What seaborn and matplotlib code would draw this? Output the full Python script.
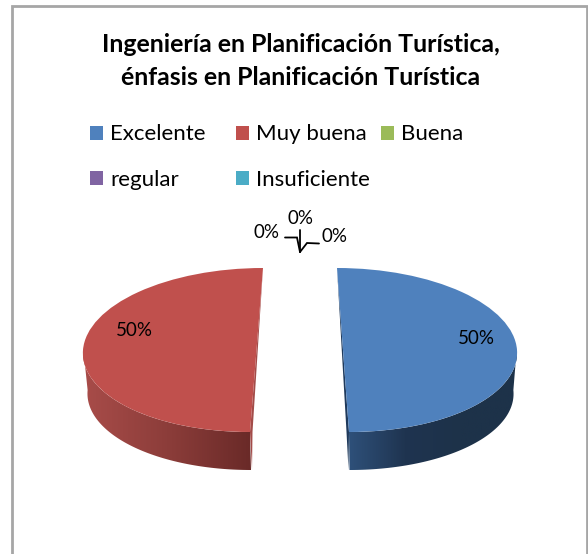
import numpy as np
import matplotlib
matplotlib.use('Agg')
import matplotlib.pyplot as plt
from matplotlib.colors import ListedColormap
from matplotlib.patches import Polygon, Rectangle
from matplotlib.transforms import Affine2D
import seaborn as sns

sns.set_theme(style='white')
plt.rcParams['font.family'] = ['Lato', 'DejaVu Sans']

titulo = 'Ingeniería en Planificación Turística,\nénfasis en Planificación Turística'
categorias = ['Excelente', 'Muy buena', 'Buena', 'regular', 'Insuficiente']
valores = [50, 50, 0, 0, 0]
colores = ['#4f81bd', '#c0504d', '#9bbb59', '#8064a2', '#4bacc6']
grad_azul = ['#2e5079', '#1f3450', '#1d3249', '#1d3249']
grad_rojo = ['#a84c49', '#8c3d3a', '#6a2a28']

H = 554
fig = plt.figure(figsize=(5.88, 5.54), dpi=100)
ax = fig.add_axes([0, 0, 1, 1])

wedges, _, pct = ax.pie(valores, colors=colores, startangle=90, counterclock=False,
                        autopct='%.0f%%', wedgeprops={'linewidth': 0, 'edgecolor': 'none'},
                        textprops={'fontsize': 13.5, 'color': 'black', 'zorder': 6})
ax.set_aspect('auto')
ax.set_xlim(0, 588)
ax.set_ylim(0, H)
ax.axis('off')

# caja del grafico
ax.add_patch(Rectangle((11.5, -10), 575.5, H + 10 - 5.5, fill=False, ec='#a6a6a6', lw=2, zorder=0))

# (cx, cy, a, b, k) cara superior e inferior de cada porcion en pixeles
geo_sup = [(343, H - 350, 174, 82, -6), (256.5, H - 350, 173.5, 82, 6.5)]
geo_inf = [(345.5, H - 392, 168, 78, -4), (254.5, H - 392, 167, 78, 3.5)]
gradientes = [grad_azul, grad_rojo]
tiras = ['#1f3a5c', '#a34c49']


def puntos(g, ang):
    cx, cy, a, b, k = g
    c, s = np.cos(np.radians(ang)), np.sin(np.radians(ang))
    return np.column_stack([cx + a * c + k * s, cy + b * s])


for i in range(2):
    w = wedges[i]
    ang = np.linspace(w.theta1, w.theta2, 200)
    ang = ang[np.sin(np.radians(ang)) <= 0.03]
    sup = puntos(geo_sup[i], ang)
    inf = puntos(geo_inf[i], ang)

    # lateral con degradado
    lat = Polygon(np.vstack([sup, inf[::-1]]), closed=True, fc='none', ec='none')
    ax.add_patch(lat)
    if i == 0:
        x0, x1 = 349, 517
    else:
        x0, x1 = 83, 252
    cmap = ListedColormap(sns.blend_palette(gradientes[i], 64))
    im = ax.imshow(np.linspace(0, 1, 64)[None, :], cmap=cmap, aspect='auto',
                   extent=(x0, x1, H - 475, H - 340), zorder=1)
    im.set_clip_path(lat)

    # tira del corte
    arriba = puntos(geo_sup[i], [90 if i == 0 else -270])[0]
    ap_sup = puntos(geo_sup[i], [-90])[0]
    ap_inf = puntos(geo_inf[i], [-90])[0]
    sgn = -1 if i == 0 else 1
    ax.add_patch(Polygon([arriba, ap_sup + [sgn * 2.5, 0], ap_inf + [sgn * 1, 0], ap_sup],
                         closed=True, fc=tiras[i], ec='none', zorder=2))

    # cara superior
    cx, cy, a, b, k = geo_sup[i]
    w.set_transform(Affine2D.from_values(a, 0, k, b, cx, cy) + ax.transData)
    w.set_zorder(3)

for w in wedges[2:]:
    w.set_visible(False)

# etiquetas de porcentaje
pos_pct = [(476, H - 339), (134, H - 330), (300, H - 218), (266, H - 232), (334, H - 237)]
for t, p in zip(pct, pos_pct):
    t.set_position(p)

# lineas guia
for xs, ys in [([285, 297, 300], [237.5, 237.5, 252]),
               ([300, 300], [230, 252]),
               ([300, 307, 319], [252, 243, 243.5])]:
    ax.plot(xs, [H - y for y in ys], color='black', lw=1.3, zorder=5, solid_joinstyle='miter')

ax.text(300.5, H - 61, titulo, ha='center', va='center', fontsize=17.9, fontweight='bold',
        color='black', linespacing=1.5)

# leyenda, una por columna
columnas = [([0, 3], 90), ([1, 4], 236), ([2], 381)]
for idx, xc in columnas:
    leg = ax.legend([wedges[j] for j in idx], [categorias[j] for j in idx],
                    loc='upper left', bbox_to_anchor=(xc / 588, 1 - 124.5 / H), frameon=False,
                    fontsize=16, handlelength=0.59, handleheight=0.59, handletextpad=0.32,
                    labelspacing=1.16, borderpad=0, borderaxespad=0, labelcolor='black')
    for h, j in zip(leg.legend_handles, idx):
        h.set_visible(True)
        h.set_facecolor(colores[j])
    ax.legend_ = None
    ax.add_artist(leg)

fig.savefig('out.png', dpi=100, facecolor='white')
